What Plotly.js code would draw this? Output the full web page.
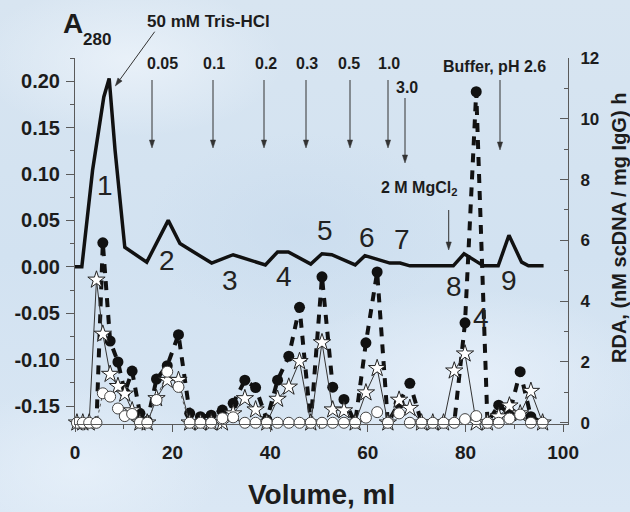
<!DOCTYPE html>
<html><head><meta charset="utf-8">
<script src="https://cdn.plot.ly/plotly-3.0.1.min.js"></script>
<style>
html,body{margin:0;padding:0;}
body{width:630px;height:512px;overflow:hidden;
background:
 radial-gradient(ellipse 220px 110px at 130px 60px, rgba(236,243,250,0.85), rgba(236,243,250,0) 70%),
 radial-gradient(ellipse 260px 130px at 470px 380px, rgba(234,242,251,0.8), rgba(234,242,251,0) 70%),
 radial-gradient(ellipse 220px 140px at 300px 230px, rgba(198,217,236,0.55), rgba(198,217,236,0) 70%),
 radial-gradient(ellipse 200px 120px at 80px 470px, rgba(232,241,250,0.8), rgba(232,241,250,0) 70%),
 linear-gradient(180deg,#d8e5f1 0%,#d2e2f1 50%,#dae7f4 100%);}
#chart{width:630px;height:512px;}
</style></head><body><div id="chart"></div>
<script>
// ---- data ----
const volume = [0.4, 1.6, 2.9, 4.4, 5.7, 7.2, 8.8, 10.2, 11.7, 13.3, 14.8, 16.7, 18.9, 21.2, 23.5, 25.7, 27.9, 30.2, 32.4, 34.8, 37.0, 39.3, 41.5, 43.8, 46.0, 48.3, 50.6, 52.8, 55.1, 57.4, 59.6, 61.9, 64.1, 66.4, 68.6, 71.0, 73.3, 75.5, 77.7, 79.9, 82.2, 84.5, 86.8, 89.0, 91.2, 93.4, 95.8];
const rdaFilled = [0, 0, 0, 0, 5.92, 2.69, 2.0, 1.0, 1.70, 0.31, 0.05, 1.44, 1.88, 2.90, 0.31, 0.2, 0.25, 0.42, 0.64, 1.40, 1.16, 0.1, 1.40, 2.19, 3.80, 0, 4.80, 1.17, 0.77, 0, 2.63, 4.96, 0, 0.64, 1.30, 0, 0, 0, 0, 3.29, 10.89, 0, 0.58, 0.3, 1.68, 0.2, 0];
const rdaStar = [0, 0, 0, 4.70, 2.92, 1.60, 1.2, 0.95, 0.4, 0, 0, 0.80, 1.40, 1.40, 0, 0, 0, 0, 0.3, 0.80, 0.43, 0, 0.78, 1.18, 2.02, 0, 2.64, 0.43, 0.40, 0, 0.99, 1.79, 0, 0.75, 0.48, 0, 0, 0, 1.71, 2.27, 0, 0, 0.2, 0.56, 0.3, 1.04, 0];
const rdaOpen = [0, 0, 0, 0, 0.97, 0.86, 0.47, 0.22, 0.29, 0, 0, 0.75, 1.68, 1.18, 0, 0, 0, 0.15, 0.18, 0, 0, 0, 0, 0, 0, 0, 0, 0, 0, 0, 0.17, 0.35, 0, 0.31, 0, 0, 0, 0, 0, 0.12, 0.22, 0, 0, 0.14, 0.27, 0, 0];
const a280Volume = [0, 1.4, 3.6, 5.9, 7.0, 8.2, 10.2, 14.7, 19.1, 21.5, 28.0, 32.4, 39.0, 41.5, 43.7, 48.3, 50.6, 52.6, 57.4, 59.4, 64.5, 66.6, 68.6, 77.5, 79.7, 83.7, 86.7, 88.9, 91.5, 92.9, 96.0];
const a280 = [0, 0, 0.104, 0.183, 0.203, 0.126, 0.021, 0.005, 0.050, 0.025, 0.004, 0.013, 0.002, 0.016, 0.016, 0.003, 0.014, 0.013, 0.002, 0.012, 0.004, 0.004, 0.001, 0.001, 0.014, 0.001, 0.001, 0.034, 0.005, 0.001, 0.001];
const xTicks = [0, 20, 40, 60, 80, 100];
const leftTicks = [-0.15, -0.10, -0.05, 0.00, 0.05, 0.10, 0.15, 0.20];
const rightTicks = [0, 2, 4, 6, 8, 10, 12];
const stepLabels = ['50 mM Tris-HCl', '0.05', '0.1', '0.2', '0.3', '0.5', '1.0', '3.0', 'Buffer, pH 2.6', '2 M MgCl<sub>2</sub>'];
const peakLabels = ['1', '2', '3', '4', '5', '6', '7', '8', '9', '4'];

// ---- layout geometry (pixels) ----
const L = 75, T = 58, W = 493, H = 366;
const px = p => (p - L) / W;
const py = p => (T + H - p) / H;
const FAM = '"Liberation Sans", Arial, Helvetica, sans-serif';
const INK = '#1c1c1c';

const traces = [
  {x: a280Volume, y: a280, yaxis: 'y', mode: 'lines', line: {color: '#111', width: 3.5}, hoverinfo: 'skip'},
  {x: volume, y: rdaFilled, yaxis: 'y2', mode: 'lines+markers', cliponaxis: false,
   line: {color: '#111', width: 4, dash: '9px,8px'}, marker: {symbol: 'circle', size: 11, color: '#111'}},
  {x: volume, y: rdaStar, yaxis: 'y2', mode: 'lines+markers', cliponaxis: false,
   line: {color: '#333', width: 1}, marker: {symbol: 'star', size: 13, color: '#fff', line: {color: '#222', width: 1}}},
  {x: volume, y: rdaOpen, yaxis: 'y2', mode: 'lines+markers', cliponaxis: false,
   line: {color: '#555', width: 1, dash: 'dot'}, marker: {symbol: 'circle', size: 11, color: '#fff', line: {color: '#444', width: 1}}}
];

const ann = [];
const shapes = [];
// step labels: [cx, cy, size]
const stepPos = [[208, 21.7, 17], [162.7, 63, 16], [214, 63, 16], [265.6, 63, 16], [307, 63, 16], [349, 63, 16], [389, 63, 16], [406.8, 87.7, 16], [494.7, 66.7, 16], [419, 189, 16]];
stepLabels.forEach((t, i) => {
  const p = stepPos[i];
  ann.push({xref: 'paper', yref: 'paper', x: px(p[0]), y: py(p[1]), text: t, showarrow: false,
    xanchor: 'center', yanchor: 'middle', font: {family: FAM, size: p[2], color: INK, weight: 'bold'}});
});
// arrows drawn as shapes: [headX, headY, tailX, tailY]
const arrows = [[115.3, 86, 154.7, 31.7], [152, 148, 152, 80], [213, 148, 213, 80], [264, 148, 264, 80], [306, 148, 306, 80], [350, 148, 350, 80], [388, 148, 388, 80], [405, 163, 405, 98], [500, 150, 500, 80], [448.7, 250, 448.7, 210]];
arrows.forEach(a => {
  const [hx, hy, tx, ty] = a;
  const len = Math.hypot(hx - tx, hy - ty);
  const dx = (hx - tx) / len, dy = (hy - ty) / len;
  const nx = -dy, ny = dx, hl = 8, hw = 2.6;
  const bx = hx - dx * hl, by = hy - dy * hl;
  shapes.push({type: 'line', xref: 'paper', yref: 'paper', x0: px(tx), y0: py(ty), x1: px(bx), y1: py(by),
    line: {color: '#333', width: 1}});
  shapes.push({type: 'path', xref: 'paper', yref: 'paper',
    path: `M ${px(hx)} ${py(hy)} L ${px(bx + nx * hw)} ${py(by + ny * hw)} L ${px(bx - nx * hw)} ${py(by - ny * hw)} Z`,
    fillcolor: '#333', line: {color: '#333', width: 0.5}});
});
const peakPos = [[105, 185], [166.7, 260], [230, 280], [283.5, 276.5], [325, 230.5], [367, 237.2], [401.8, 239.8], [453.7, 286], [508.8, 280], [480.7, 317]];
peakLabels.forEach((t, i) => {
  ann.push({xref: 'paper', yref: 'paper', x: px(peakPos[i][0]), y: py(peakPos[i][1]), text: t, showarrow: false,
    xanchor: 'center', yanchor: 'middle', font: {family: FAM, size: 28, color: '#222'}});
});
ann.push({xref: 'paper', yref: 'paper', x: px(72.5), y: py(23), text: 'A', showarrow: false,
  xanchor: 'center', yanchor: 'middle', font: {family: FAM, size: 28, color: INK, weight: 'bold'}});
ann.push({xref: 'paper', yref: 'paper', x: px(96.7), y: py(40), text: '280', showarrow: false,
  xanchor: 'center', yanchor: 'middle', font: {family: FAM, size: 17, color: INK, weight: 'bold'}});
ann.push({xref: 'paper', yref: 'paper', x: px(619), y: py(228), text: 'RDA, (nM scDNA / mg IgG) h', showarrow: false,
  textangle: -90, xanchor: 'center', yanchor: 'middle', font: {family: FAM, size: 20, color: INK, weight: 'bold'}});
ann.push({xref: 'paper', yref: 'paper', x: px(321), y: py(494), text: 'Volume, ml', showarrow: false,
  xanchor: 'center', yanchor: 'middle', font: {family: FAM, size: 28, color: INK, weight: 'bold'}});

const axCol = '#5a5a5a';
const layout = {
  width: 630, height: 512,
  margin: {l: L, r: 630 - L - W, t: T, b: 512 - T - H},
  paper_bgcolor: 'rgba(0,0,0,0)', plot_bgcolor: 'rgba(0,0,0,0)',
  showlegend: false,
  xaxis: {range: [0, 101], tickvals: xTicks, ticktext: xTicks.map(String), ticks: 'outside', ticklen: 7, tickwidth: 1,
    tickcolor: axCol, showline: true, linecolor: axCol, linewidth: 1, showgrid: false, zeroline: false,
    minor: {dtick: 10, tick0: 0, ticks: 'outside', ticklen: 4, tickcolor: axCol},
    tickfont: {family: FAM, size: 19, color: INK, weight: 'bold'}, ticklabelstandoff: 4},
  yaxis: {range: [-0.1694, 0.225], tickvals: leftTicks, ticktext: leftTicks.map(v => v.toFixed(2)), ticks: 'outside', ticklen: 8,
    tickwidth: 1, tickcolor: axCol, showline: true, linecolor: axCol, linewidth: 1, showgrid: false, zeroline: false,
    minor: {dtick: 0.025, tick0: 0, ticks: 'outside', ticklen: 4, tickcolor: axCol},
    tickfont: {family: FAM, size: 20, color: INK, weight: 'bold'}, ticklabelstandoff: 2},
  yaxis2: {range: [-0.04, 12], overlaying: 'y', side: 'right', tickvals: rightTicks, ticktext: rightTicks.map(String),
    ticks: 'inside', ticklen: 8, tickwidth: 1, tickcolor: axCol, showline: true, linecolor: axCol, linewidth: 1,
    showgrid: false, zeroline: false,
    minor: {dtick: 1, tick0: 0, ticks: 'inside', ticklen: 4, tickcolor: axCol},
    tickfont: {family: FAM, size: 17, color: INK, weight: 'bold'}, ticklabelstandoff: 8},
  annotations: ann,
  shapes: shapes
};
Plotly.newPlot('chart', traces, layout, {staticPlot: true, displayModeBar: false});
</script></body></html>
